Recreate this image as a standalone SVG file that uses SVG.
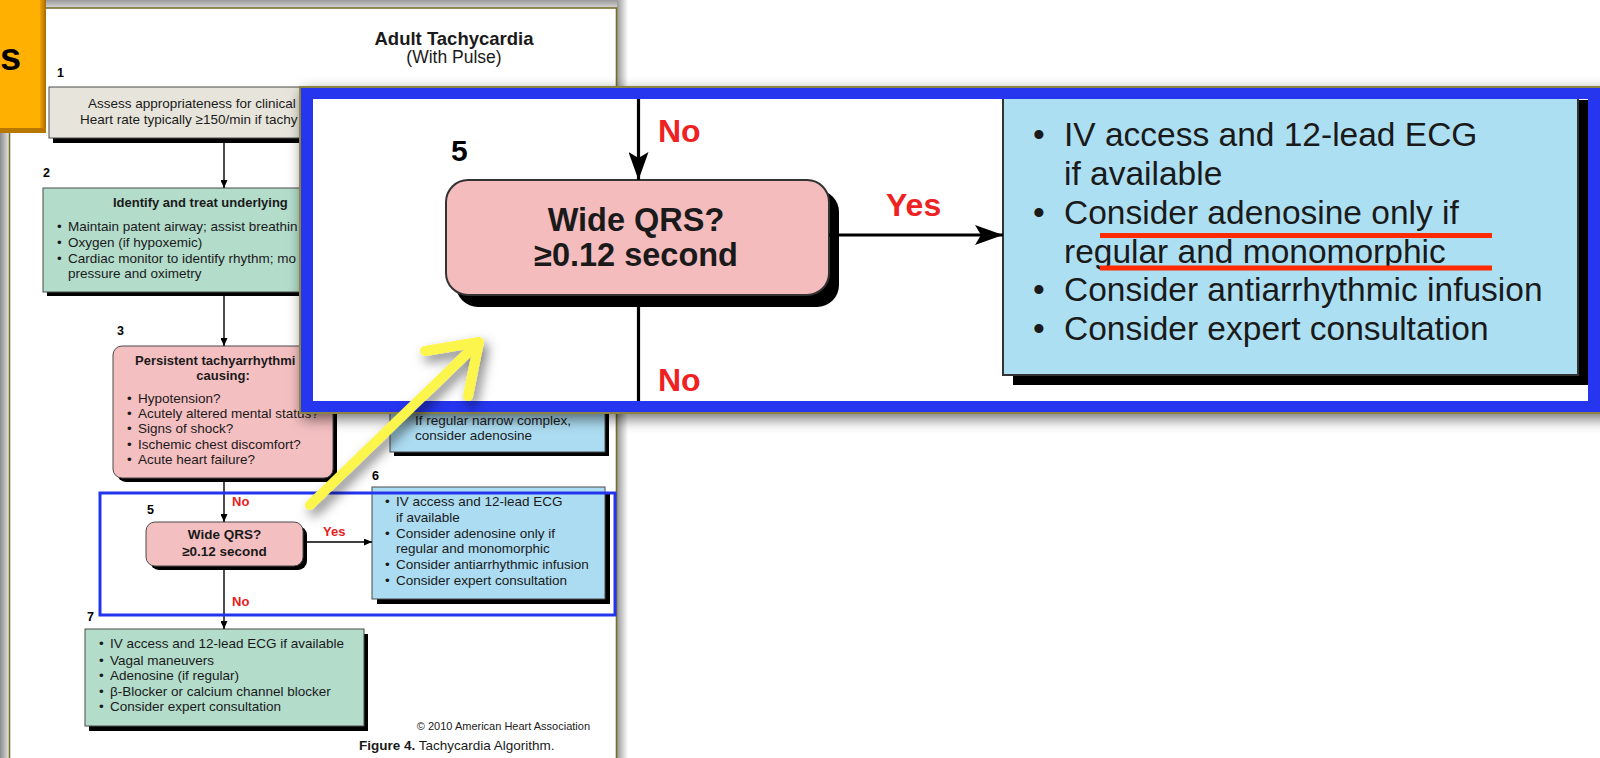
<svg xmlns="http://www.w3.org/2000/svg" width="1600" height="758" viewBox="0 0 1600 758">
<style>
text{font-family:"Liberation Sans",Arial,sans-serif;fill:#1a1a1a}
.t{font-size:13.5px}
.b{font-size:13px;font-weight:bold}
.lbl{font-size:12.5px;font-weight:bold;fill:#000}
.red{font-size:13px;font-weight:bold;fill:#e8201c}
.bt{font-size:33.5px}
.bb{font-size:32.5px;font-weight:bold}
.bred{font-size:32px;font-weight:bold;fill:#ee2222}
.sh{fill:#000}
.box{stroke:#4a4a4a;stroke-width:1}
.bigbox{stroke:#333;stroke-width:2}
.con{stroke:#000;stroke-width:1.4;fill:none}
.bcon{stroke:#000;stroke-width:3.2;fill:none}
</style>
<defs>
<linearGradient id="gTop" x1="0" y1="0" x2="0" y2="1"><stop offset="0" stop-color="#9a9a9a"/><stop offset="1" stop-color="#d8d8d8"/></linearGradient>
<linearGradient id="gLeft" x1="0" y1="0" x2="1" y2="0"><stop offset="0" stop-color="#8c8c8c"/><stop offset="0.7" stop-color="#cfcfcf"/><stop offset="1" stop-color="#ffffff"/></linearGradient>
<linearGradient id="gRight" x1="0" y1="0" x2="1" y2="0"><stop offset="0" stop-color="#9a9a9a"/><stop offset="1" stop-color="#ffffff"/></linearGradient>
<linearGradient id="gTabR" x1="0" y1="0" x2="1" y2="0"><stop offset="0" stop-color="#f0a000"/><stop offset="1" stop-color="#a86b00"/></linearGradient>
<filter id="ovShadow" x="-5%" y="-15%" width="112%" height="135%"><feDropShadow dx="3" dy="5" stdDeviation="7" flood-color="#000" flood-opacity="0.55"/></filter>
<filter id="yShadow" x="-30%" y="-30%" width="160%" height="160%"><feDropShadow dx="4" dy="6" stdDeviation="6" flood-color="#000" flood-opacity="0.5"/></filter>
<marker id="ah" markerUnits="userSpaceOnUse" markerWidth="8" markerHeight="7" refX="8" refY="3.5" orient="auto"><path d="M0,0 L8,3.5 L0,7 z" fill="#000"/></marker>
<marker id="bah" markerUnits="userSpaceOnUse" markerWidth="28" markerHeight="20" refX="28" refY="10" orient="auto"><path d="M0,0 L28,10 L0,20 L6,10 z" fill="#000"/></marker>
<clipPath id="inset"><rect x="313" y="99" width="1275" height="302"/></clipPath>
</defs>

<rect x="0" y="0" width="1600" height="758" fill="#fff"/>
<g id="page">
<rect x="0" y="0" width="620" height="8" fill="url(#gTop)"/>
<rect x="0" y="0" width="10" height="758" fill="url(#gLeft)"/>
<rect x="617" y="0" width="11" height="758" fill="url(#gRight)"/>
<rect x="9.5" y="8" width="607" height="770" fill="#fff" stroke="#77702c" stroke-width="1.6"/>
<text x="454" y="45" text-anchor="middle" style="font-size:18.5px;font-weight:bold">Adult Tachycardia</text>
<text x="454" y="63" text-anchor="middle" style="font-size:17.5px">(With Pulse)</text>
<text x="590" y="730" text-anchor="end" style="font-size:11px">© 2010 American Heart Association</text>
<text x="359" y="750" style="font-size:13.5px"><tspan font-weight="bold">Figure 4.</tspan> Tachycardia Algorithm.</text>
</g>

<g id="node-1">
<text class="lbl" x="57" y="77">1</text>
<rect class="sh" x="53" y="92" width="270" height="51"/>
<rect class="box" x="49" y="87" width="270" height="51" fill="#e7e5db"/>
<text class="t" x="88" y="108">Assess appropriateness for clinical</text>
<text class="t" x="80" y="124">Heart rate typically ≥150/min if tachy</text>
</g>

<g id="node-2">
<text class="lbl" x="43" y="177">2</text>
<rect class="sh" x="47" y="192" width="270" height="104"/>
<rect class="box" x="43" y="188" width="270" height="104" fill="#b3dccb"/>
<text class="b" x="113" y="207">Identify and treat underlying</text>
<text class="t" x="57" y="231">•</text><text class="t" x="68" y="231">Maintain patent airway; assist breathin</text>
<text class="t" x="57" y="247">•</text><text class="t" x="68" y="247">Oxygen (if hypoxemic)</text>
<text class="t" x="57" y="263">•</text><text class="t" x="68" y="263">Cardiac monitor to identify rhythm; mo</text>
<text class="t" x="68" y="278">pressure and oximetry</text>
</g>

<g id="node-3">
<text class="lbl" x="117" y="335">3</text>
<rect class="sh" x="117" y="350" width="220" height="132" rx="9"/>
<rect class="box" x="113" y="346" width="220" height="132" rx="9" fill="#f4bfc1"/>
<text class="b" x="135" y="365">Persistent tachyarrhythmi</text>
<text class="b" x="223" y="380" text-anchor="middle">causing:</text>
<text class="t" x="127" y="403">•</text><text class="t" x="138" y="403">Hypotension?</text>
<text class="t" x="127" y="418">•</text><text class="t" x="138" y="418">Acutely altered mental status?</text>
<text class="t" x="127" y="433">•</text><text class="t" x="138" y="433">Signs of shock?</text>
<text class="t" x="127" y="449">•</text><text class="t" x="138" y="449">Ischemic chest discomfort?</text>
<text class="t" x="127" y="464">•</text><text class="t" x="138" y="464">Acute heart failure?</text>
</g>

<g id="node-4">
<rect class="sh" x="394" y="384" width="215" height="72"/>
<rect class="box" x="390" y="380" width="215" height="72" fill="#acdcf1"/>
<text class="t" x="415" y="425">If regular narrow complex,</text>
<text class="t" x="415" y="440">consider adenosine</text>
</g>

<g id="node-5">
<text class="lbl" x="147" y="514">5</text>
<rect class="sh" x="150" y="526" width="157" height="44" rx="9"/>
<rect class="box" x="146" y="522" width="157" height="44" rx="9" fill="#f4bfc1"/>
<text class="b" x="224.5" y="539" text-anchor="middle" style="font-size:13.5px">Wide QRS?</text>
<text class="b" x="224.5" y="556" text-anchor="middle" style="font-size:13.5px">≥0.12 second</text>
</g>

<g id="node-6">
<text class="lbl" x="372" y="480">6</text>
<rect class="sh" x="377" y="492" width="233" height="112"/>
<rect class="box" x="372" y="487" width="233" height="112" fill="#acdcf1"/>
<text class="t" x="385" y="506">•</text><text class="t" x="396" y="506">IV access and 12-lead ECG</text>
<text class="t" x="396" y="522">if available</text>
<text class="t" x="385" y="538">•</text><text class="t" x="396" y="538">Consider adenosine only if</text>
<text class="t" x="396" y="553">regular and monomorphic</text>
<text class="t" x="385" y="569">•</text><text class="t" x="396" y="569">Consider antiarrhythmic infusion</text>
<text class="t" x="385" y="585">•</text><text class="t" x="396" y="585">Consider expert consultation</text>
</g>

<g id="node-7">
<text class="lbl" x="87" y="621">7</text>
<rect class="sh" x="89" y="634" width="279" height="97"/>
<rect class="box" x="85" y="629" width="279" height="97" fill="#b3dccb"/>
<text class="t" x="99" y="648">•</text><text class="t" x="110" y="648">IV access and 12-lead ECG if available</text>
<text class="t" x="99" y="665">•</text><text class="t" x="110" y="665">Vagal maneuvers</text>
<text class="t" x="99" y="680">•</text><text class="t" x="110" y="680">Adenosine (if regular)</text>
<text class="t" x="99" y="696">•</text><text class="t" x="110" y="696">β-Blocker or calcium channel blocker</text>
<text class="t" x="99" y="711">•</text><text class="t" x="110" y="711">Consider expert consultation</text>
</g>

<g id="connectors">
<path class="con" d="M224,143 V188" marker-end="url(#ah)"/>
<path class="con" d="M224,296 V346" marker-end="url(#ah)"/>
<path class="con" d="M224,482 V522" marker-end="url(#ah)"/>
<path class="con" d="M307,542 H372" marker-end="url(#ah)"/>
<path class="con" d="M224,570 V629" marker-end="url(#ah)"/>
<text class="red" x="232" y="506">No</text>
<text class="red" x="323" y="536">Yes</text>
<text class="red" x="232" y="606">No</text>
</g>

<g id="highlight">
<rect x="100" y="493" width="515" height="122" fill="none" stroke="#2234ee" stroke-width="3"/>
</g>

<g id="tab">
<rect x="0" y="0" width="46" height="133" fill="#ffb000"/>
<rect x="40" y="0" width="6" height="133" fill="url(#gTabR)"/>
<rect x="0" y="128" width="46" height="5" fill="#b87800"/>
<text x="0" y="70" style="font-size:38px;font-weight:bold;fill:#000">s</text>
</g>

<g id="zoom-inset">
<rect x="300" y="87" width="1320" height="326" fill="#2634ee" stroke="#8a8440" stroke-width="2" filter="url(#ovShadow)"/>
<rect x="313" y="99" width="1275" height="302" fill="#fff"/>
<g clip-path="url(#inset)">
<g id="zoom-node-5">
<text x="451" y="161" style="font-size:30px;font-weight:bold;fill:#000">5</text>
<rect class="sh" x="456" y="190" width="383" height="117" rx="22"/>
<rect class="bigbox" x="446" y="180" width="383" height="115" rx="22" fill="#f5bcbe"/>
<text class="bb" x="636" y="231" text-anchor="middle">Wide QRS?</text>
<text class="bb" x="636" y="266" text-anchor="middle">≥0.12 second</text>
</g>
<g id="zoom-node-6">
<rect class="sh" x="1013" y="100" width="575" height="285"/>
<rect class="bigbox" x="1003" y="90" width="575" height="285" fill="#addff3"/>
<text class="bt" x="1033" y="146">•</text><text class="bt" x="1064" y="146">IV access and 12-lead ECG</text>
<text class="bt" x="1064" y="185">if available</text>
<text class="bt" x="1033" y="224">•</text><text class="bt" x="1064" y="224">Consider adenosine only if</text>
<text class="bt" x="1064" y="263">regular and monomorphic</text>
<text class="bt" x="1033" y="301">•</text><text class="bt" x="1064" y="301">Consider antiarrhythmic infusion</text>
<text class="bt" x="1033" y="340">•</text><text class="bt" x="1064" y="340">Consider expert consultation</text>
<rect x="1100" y="233" width="392" height="5" fill="#ff2a00"/>
<rect x="1100" y="265.5" width="392" height="5" fill="#ff2a00"/>
</g>
<g id="zoom-connectors">
<path class="bcon" d="M638.5,99 V180" marker-end="url(#bah)"/>
<path class="bcon" d="M829,235 H1003" marker-end="url(#bah)"/>
<path class="bcon" d="M638.5,307 V401"/>
<text class="bred" x="658" y="142">No</text>
<text class="bred" x="886" y="216">Yes</text>
<text class="bred" x="658" y="391">No</text>
</g>
</g>
</g>

<g id="pointer" filter="url(#yShadow)">
<path d="M310,505 L479,342 M425,351 L479,342 L468,396" fill="none" stroke="#fcf54c" stroke-width="10" stroke-linecap="round" stroke-linejoin="round"/>
</g>
</svg>
